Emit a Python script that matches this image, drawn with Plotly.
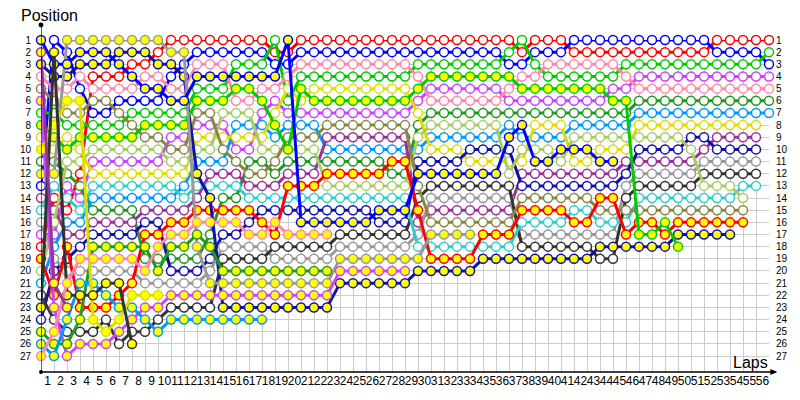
import plotly.graph_objects as go

laps = list(range(0, 57))
lap_labels = [str(i) for i in range(1, 57)]
positions = list(range(1, 28))

# Position of each car on every lap (index 0 = grid)
red_white = [18,14,15,12,4,4,4,3,3,2, 1,1,1,1,1,1,1,1,2,2, 1,1,1,1,1,1,1,1,1,1, 1,1,1,1,1,1,1,2,1,1, 1,2,2,2,2,2,2,2,2,2, 2,2,1,1,1,1,1]
blue_white = [13,1,2,5,7,7,6,6,6,6, 4,3,2,2,2,2,2,2,3,3, 2,2,2,2,2,2,2,2,2,2, 2,2,2,2,2,2,3,3,2,2, 2,1,1,1,1,1,1,1,1,1, 1,1,2,2,2,2,3]
green_white = [7,7,8,8,8,8,8,7,7,7, 7,7,5,5,5,3,3,3,1,6, 4,4,4,4,4,4,4,4,4,3, 3,3,3,3,3,3,2,1,3,4, 4,4,4,4,4,3,3,3,3,3, 3,3,3,3,3,3,2]
violet_white = [17,17,13,14,11,11,11,11,11,11, 9,9,8,8,8,10,10,7,6,7, 7,7,7,7,7,7,7,7,7,6, 5,5,5,5,5,5,6,6,6,6, 6,6,6,6,5,5,4,4,4,4, 4,4,4,4,4,4,4]
pink_white = [4,5,5,4,5,5,5,5,4,4, 5,5,3,3,3,6,6,5,5,4, 3,3,3,3,3,3,3,3,3,4, 6,6,6,6,6,6,5,4,4,3, 3,3,3,3,3,4,5,5,5,5, 5,5,5,5,5,5,5]
dkgreen_white = [11,11,12,13,15,15,15,15,19,19, 19,19,19,17,14,14,11,11,12,11, 11,11,11,11,11,11,11,12,12,8, 7,7,7,7,7,7,7,7,7,7, 7,7,7,7,7,7,6,6,6,6, 6,6,6,6,6,6,6]
sky_white = [21,18,16,16,14,14,14,14,14,14, 14,13,11,11,11,8,8,8,9,8, 8,8,10,10,10,10,10,10,10,10, 9,9,9,9,9,9,8,9,9,9, 9,8,8,8,8,8,7,7,7,7, 7,7,7,7,7,7,7]
yellow_white = [9,10,9,10,12,12,12,12,12,12, 12,12,9,9,9,9,9,9,7,5, 6,5,5,5,5,5,5,5,5,7, 10,10,10,11,11,11,11,11,8,8, 8,11,11,10,10,10,8,8,8,8, 8,8,8,8,8,8]
purple_white = [14,15,17,17,16,16,16,16,15,15, 15,15,14,12,12,12,13,13,13,12, 12,12,9,9,9,9,9,9,9,16, 15,15,15,15,15,15,15,12,12,12, 12,12,12,12,12,11,11,11,11,11, 11,10,9,9,9,9]
navy_white = [24,20,19,18,17,17,17,17,16,16, 20,20,20,19,17,17,16,15,15,15, 15,15,15,15,15,15,16,16,16,11, 11,11,11,10,10,10,10,13,13,13, 13,13,13,13,13,12,10,10,10,10, 9,9,10,10,10,10]
gray_white = [16,19,20,20,20,20,20,20,21,21, 21,21,21,20,18,18,18,18,19,19, 19,19,19,18,18,18,18,18,18,17, 14,14,14,14,14,14,14,17,17,17, 17,17,17,17,17,13,12,12,12,12, 12,11,11,11,11,11]
dkgray_white = [22,24,25,25,25,24,26,25,25,24, 23,23,23,23,19,19,19,19,18,18, 18,18,18,17,17,17,17,17,17,14, 13,13,13,13,13,13,13,18,18,18, 18,18,18,19,19,14,13,13,13,13, 13,12,12,12,12,12]
cyan_white = [15,13,14,15,13,13,13,13,13,13, 13,14,13,13,13,13,14,14,14,14, 14,14,14,14,14,14,14,14,14,18, 18,18,18,18,18,18,18,16,16,16, 16,15,15,16,16,16,14,14,14,14, 14,14,14,14,13,13]
lolive_white = [20,16,11,11,10,10,10,10,10,10, 11,11,10,10,7,7,7,10,10,10, 10,10,13,13,13,13,13,13,13,9, 8,8,8,8,8,8,12,10,10,10, 11,9,9,9,9,9,9,9,9,9, 10,13,13,13,14]
olive_white = [5,6,7,7,6,6,7,8,9,9, 10,10,7,7,10,11,12,12,11,9, 9,9,8,8,8,8,8,8,8,13, 16,16,16,16,16,16,16,14,14,14, 14,14,14,15,15,15,15,15,15,15, 15,15,15,15,15]
red_yellow = [19,22,18,23,23,23,22,21,17,17, 16,16,15,15,15,15,15,16,17,13, 13,13,12,12,12,12,12,11,11,15, 19,19,19,19,17,17,17,15,15,15, 15,16,16,14,14,17,16,16,17,16, 16,16,16,16,16]
navy_yellow = [3,4,4,3,3,3,2,2,2,3, 3,4,12,14,23,23,23,23,23,23, 23,23,23,21,21,21,21,21,21,20, 20,20,20,20,19,19,19,19,19,19, 19,19,19,18,18,18,18,18,18,17, 17,17,17,17]
green_yellow = [8,9,10,9,9,9,9,9,8,8, 8,8,6,6,6,5,5,6,8,10, 5,6,6,6,6,6,6,6,6,5, 4,4,4,4,4,4,4,5,5,5, 5,5,5,5,6,6,17,17,16,18]
gray_yellow = [12,12,1,1,1,1,1,1,1,1, 2,2,18,21,21,21,21,21,21,21, 21,21,21,19,19,19,19,19,19,19, 17,17,17,17]
violet_yellow = [6,23,27,26,26,26,25,24,23,23, 22,22,22,22,22,22,22,22,22,22, 22,22,22,20,20,20,20,20,20]
blue_yellow = [1,3,3,2,2,2,3,4,5,5, 6,6,4,4,4,4,4,4,4,1, 16,16,16,16,16,16,15,15,15,12, 12,12,12,12,12,12,9,8,11,11, 10,10,10,11,11]
dkgreen_yellow = [25,26,26,24,18,18,18,18,18,20, 18,18,17,18,20,20,20,20,20,20, 20,20,20]
sky_yellow = [26,27,24,21,21,22,23,23,24,25, 24,24,24,24,24,24,24,24]
yellow_yellow = [10,8,6,6,24,25,24,22,22,22]
dkgray_yellow = [23,2,22,22,22,21,21,26]
pink_yellow = [27,25,21,19,19,19,19,19,20,18, 17,17,16,16,16,16,17,17,16,17, 17,17,17]
purple_yellow = [2,21,23]

cars = [
    (red_white, "#ff0000", "#ffffff"),
    (blue_white, "#0000ff", "#ffffff"),
    (green_white, "#00cc00", "#ffffff"),
    (violet_white, "#cc44ff", "#ffffff"),
    (pink_white, "#ff88aa", "#ffffff"),
    (dkgreen_white, "#229922", "#ffffff"),
    (sky_white, "#0099ff", "#ffffff"),
    (yellow_white, "#dddd00", "#ffffff"),
    (purple_white, "#993399", "#ffffff"),
    (navy_white, "#1111aa", "#ffffff"),
    (gray_white, "#999999", "#ffffff"),
    (dkgray_white, "#333333", "#ffffff"),
    (cyan_white, "#33cccc", "#ffffff"),
    (lolive_white, "#aacc66", "#ffffff"),
    (olive_white, "#888844", "#ffffff"),
    (red_yellow, "#ff0000", "#ffff00"),
    (navy_yellow, "#1111aa", "#ffff00"),
    (green_yellow, "#00cc00", "#ffff00"),
    (gray_yellow, "#999999", "#ffff00"),
    (violet_yellow, "#cc44ff", "#ffff00"),
    (blue_yellow, "#0000ff", "#ffff00"),
    (dkgreen_yellow, "#229922", "#ffff00"),
    (sky_yellow, "#0099ff", "#ffff00"),
    (yellow_yellow, "#dddd00", "#ffff00"),
    (dkgray_yellow, "#333333", "#ffff00"),
    (pink_yellow, "#ff88aa", "#ffff00"),
    (purple_yellow, "#993399", "#ffff00"),
]

fig = go.Figure()
for pos, col, fill in cars:
    fig.add_trace(go.Scatter(
        x=laps[:len(pos)], y=pos, mode="lines+markers",
        line=dict(color=col, width=3),
        marker=dict(size=9, color=fill, line=dict(color=col, width=1.5)),
        cliponaxis=False, showlegend=False, hoverinfo="skip"))

# dummy trace for the secondary axes (lap labels and right position labels)
fig.add_trace(go.Scatter(x=[None], y=[None], xaxis="x2", yaxis="y2",
                         showlegend=False, hoverinfo="skip"))

YBOT = 28.31
PW, PH = 740.0, 336.0
fig.update_layout(
    width=792, height=392,
    margin=dict(l=22, r=30, t=32, b=24),
    paper_bgcolor="white", plot_bgcolor="white",
    font=dict(family="Liberation Sans, Arial, sans-serif", color="#000000"),
    xaxis=dict(range=[0, 56], tickvals=laps, showticklabels=False,
               showgrid=True, gridcolor="#cccccc", gridwidth=1,
               zeroline=False, showline=False, ticks=""),
    xaxis2=dict(range=[0, 56], overlaying="x", side="bottom",
                tickvals=[i - 0.5 for i in range(1, 57)], ticktext=lap_labels,
                tickangle=0, showgrid=False, zeroline=False, showline=False,
                ticks="", tickfont=dict(size=12, color="#000000")),
    yaxis=dict(range=[YBOT, 1], tickvals=positions,
               ticktext=[str(p) for p in positions],
               showgrid=True, gridcolor="#cccccc", gridwidth=1,
               zeroline=False, showline=False,
               ticks="outside", ticklen=7, tickcolor="rgba(0,0,0,0)",
               tickfont=dict(size=10, color="#000000")),
    yaxis2=dict(range=[YBOT, 1], overlaying="y", side="right",
                tickvals=positions, ticktext=[str(p) for p in positions],
                showgrid=False, zeroline=False, showline=False,
                ticks="outside", ticklen=4, tickcolor="rgba(0,0,0,0)",
                tickfont=dict(size=10, color="#000000")),
    shapes=[
        dict(type="line", xref="x", yref="paper", x0=0, x1=0, y0=0, y1=1.045,
             line=dict(color="#000000", width=1.2), layer="above"),
        dict(type="circle", xref="paper", yref="paper",
             x0=-2.5/PW, x1=2.5/PW, y0=1.045-2.5/PH, y1=1.045+2.5/PH,
             fillcolor="#000000", line=dict(color="#000000", width=0), layer="above"),
        dict(type="circle", xref="paper", yref="paper",
             x0=-2/PW, x1=2/PW, y0=-2/PH, y1=2/PH,
             fillcolor="#000000", line=dict(color="#000000", width=0), layer="above"),
        dict(type="line", xref="paper", yref="paper", x0=0, x1=1.0095, y0=0, y1=0,
             line=dict(color="#000000", width=1.5), layer="above"),
        dict(type="path", xref="paper", yref="paper",
             path="M 1.002 0.009 L 1.0115 0 L 1.002 -0.009 Z",
             fillcolor="#000000", line=dict(color="#000000", width=0), layer="above"),
    ],
    annotations=[
        dict(text="Position", xref="paper", yref="paper", x=-22/PW, y=(376-15)/PH,
             xanchor="left", yanchor="middle", showarrow=False,
             font=dict(size=16, color="#000000")),
        dict(text="Laps", xref="paper", yref="paper", x=(771-30)/PW, y=(376-366)/PH,
             xanchor="right", yanchor="middle", showarrow=False,
             font=dict(size=16, color="#000000")),
    ],
)

fig.write_html("out.html")
